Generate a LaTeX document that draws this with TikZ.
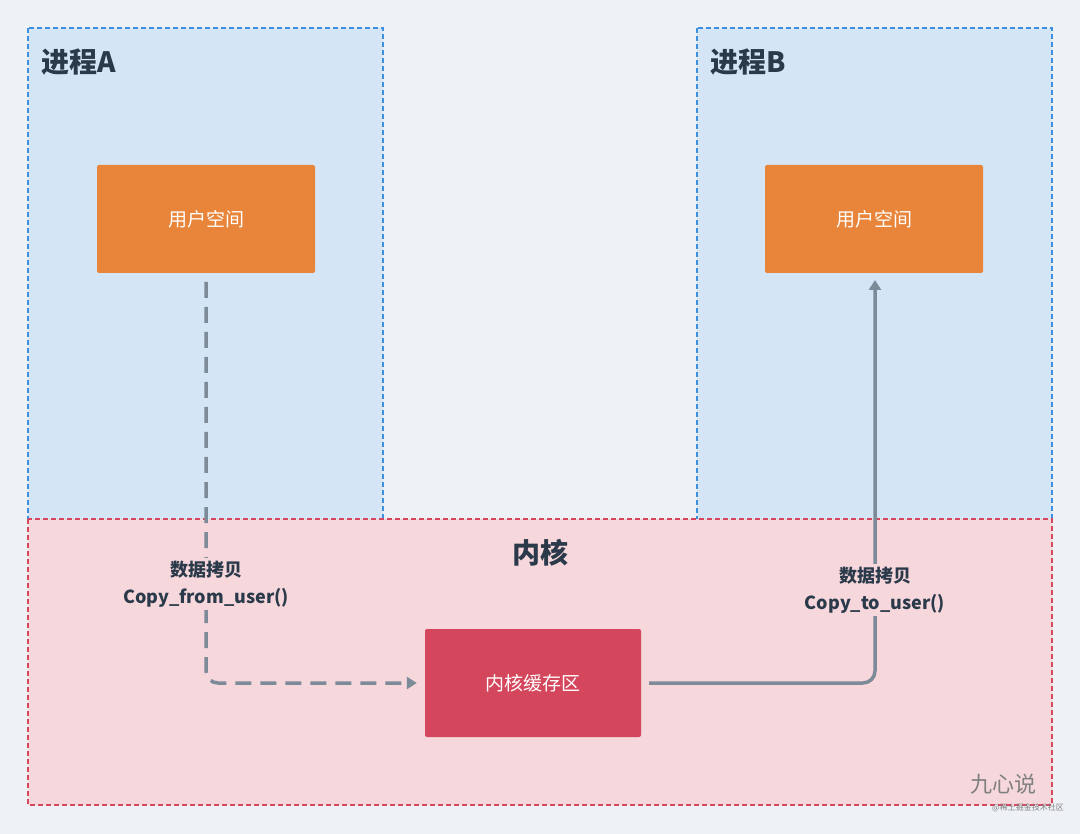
\documentclass[tikz,border=0pt]{standalone}
\usepackage{fontspec}
\setmainfont{Noto Sans CJK SC}
\usetikzlibrary{arrows.meta}
\definecolor{bg}{HTML}{EEF2F6}
\definecolor{procfill}{HTML}{D4E6F6}
\definecolor{procline}{HTML}{3D8FE0}
\definecolor{kfill}{HTML}{F6D7DC}
\definecolor{kline}{HTML}{D9455F}
\definecolor{orangebox}{HTML}{E8853A}
\definecolor{redbox}{HTML}{D4465B}
\definecolor{arrowc}{HTML}{7D8B99}
\definecolor{txt}{HTML}{2B3A4A}
\tikzset{
  region/.style={line width=1.4pt, dash pattern=on 5pt off 3pt},
  ubox/.style={fill=orangebox, text=white, minimum width=218pt, minimum height=108pt, rounded corners=2pt, font=\fontsize{19}{22}\selectfont},
  kbox/.style={fill=redbox, text=white, minimum width=216pt, minimum height=108pt, rounded corners=2pt, font=\fontsize{19}{22}\selectfont},
  title/.style={text=txt, font=\bfseries\fontsize{28}{32}\selectfont, anchor=west},
  lab/.style={fill=kfill, text=txt, font=\bfseries\fontsize{18}{27}\selectfont, align=center, inner sep=3pt},
  conn/.style={draw=arrowc, line width=3.5pt, rounded corners=12pt}
}
\begin{document}
\begin{tikzpicture}[x=1pt,y=-1pt]
\useasboundingbox (0,0) rectangle (1080,834);
\fill[bg] (0,0) rectangle (1080,834);
\draw[region, draw=procline, fill=procfill] (28,28) rectangle (383,520);
\draw[region, draw=procline, fill=procfill] (697,28) rectangle (1052,520);
\draw[region, draw=kline, fill=kfill] (28,519) rectangle (1052,805);
\node[title] (ta) at (38,62) {进程A};
\node[title] (tb) at (707,62) {进程B};
\node[text=txt, font=\bfseries\fontsize{28}{32}\selectfont] (tk) at (540,553) {内核};
\node[ubox] (ua) at (206,219) {用户空间};
\node[ubox] (ub) at (874,219) {用户空间};
\node[kbox] (kb) at (533,683) {内核缓存区};
\coordinate (c1) at (206,683);
\coordinate (c2) at (875,683);
\draw[conn, dash pattern=on 16pt off 9pt, -{Triangle[length=10pt,width=12pt]}] (206,282) -- (c1) -- ([xshift=-8pt]kb.west);
\draw[conn, -{Triangle[length=10pt,width=12pt]}] ([xshift=8pt]kb.east) -- (c2) -- (875,280);
\node[lab] (la) at (206,584) {数据拷贝\\Copy\_from\_user()};
\node[lab] (lb) at (875,590) {数据拷贝\\Copy\_to\_user()};
\node[text=gray, font=\fontsize{22}{24}\selectfont] (wm) at (1003,784) {九心说};
\node[text=gray, font=\fontsize{8}{9}\selectfont] (wm2) at (1028,808) {@稀土掘金技术社区};
\end{tikzpicture}
\end{document}
